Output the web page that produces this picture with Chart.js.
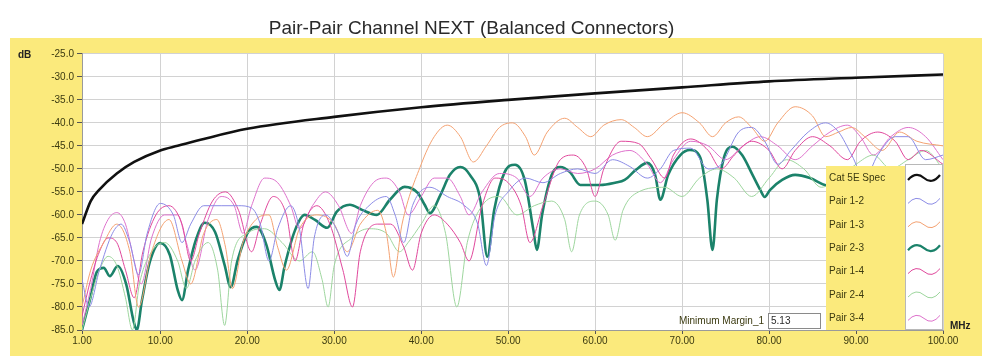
<!DOCTYPE html>
<html>
<head>
<meta charset="utf-8">
<script src="https://cdn.jsdelivr.net/npm/chart.js@4.4.1/dist/chart.umd.min.js"></script>
<style>
  html, body { margin: 0; padding: 0; background: #fff; }
  #wrap { width: 982px; height: 356px; }
</style>
</head>
<body>
<div id="wrap"><canvas id="next-chart"></canvas></div>
<script>
// frequency ticks (MHz) and dB ticks
var xTicks = [1, 10, 20, 30, 40, 50, 60, 70, 80, 90, 100];
var yMin = -85, yMax = -25, yStep = 5;

var seriesNames = ['Cat 5E Spec', 'Pair 1-2', 'Pair 1-3', 'Pair 2-3', 'Pair 1-4', 'Pair 2-4', 'Pair 3-4'];
var seriesColors = ['#111111', '#8c8ce6', '#f4a272', '#1b826a', '#e0489c', '#9ed69e', '#de72cc'];

// [MHz, dB]
var cat5eSpec = [[1,-62],[2,-57],[3,-54.5],[5,-51],[7,-48.5],[10,-46],[12,-45],[15,-43.5],[20,-41.3],[30,-38.7],[40,-36.6],[50,-35],[60,-33.6],[70,-32.3],[80,-31],[90,-30.2],[100,-29.5]];

var pair12 = [[1,-74],[1.8,-80],[3,-72],[4.5,-64],[5.5,-62],[6.5,-66],[7.5,-73],[8.5,-64],[10,-57.5],[11.5,-60],[12.5,-66],[13.5,-62],[15,-58],[17,-58],[19,-58],[20.5,-58.5],[21.5,-62],[22.5,-70],[23.5,-63],[25,-58],[26,-63],[27,-76],[27.7,-65],[29,-60],[30.5,-64],[31.5,-69],[32.5,-62],[34,-58],[36,-56],[37,-60],[38,-66],[39,-58],[41,-54],[43,-56],[45,-58],[46.5,-62],[47.5,-71],[48.5,-60],[50,-55],[52,-52],[54,-53],[56,-51],[58,-50],[60,-51],[62,-48],[64,-49.5],[66,-52],[67.5,-50],[69,-46],[71,-45.5],[73,-50],[74.5,-49],[76.5,-42],[78,-41],[79.5,-44],[81,-49],[82.5,-46],[84.5,-42],[86.5,-40],[88,-42],[89.5,-47],[91,-52],[92.5,-47],[94.5,-43],[96,-43],[98,-48],[100,-47]];

var pair13 = [[1,-80],[2,-72],[3.5,-66],[5,-62],[6.5,-68],[7.5,-80],[9,-68],[11,-61],[12.5,-70],[13.5,-75],[15,-64],[16.5,-61],[17.5,-67],[18.3,-76],[19.5,-66],[21,-61],[22.5,-60],[23.5,-67],[24.5,-72],[26,-63],[28,-60],[30,-62],[31.5,-68],[33,-62],[35,-59],[36,-64],[36.8,-73.5],[37.8,-62],[40,-49],[41.5,-43],[43,-40.5],[44.5,-43],[46,-48.5],[47.5,-45],[49,-41],[50.5,-40],[52,-43],[53,-47],[54.5,-42],[56.5,-39],[58,-41],[59.5,-43],[61,-40.5],[63,-39.3],[64.5,-41],[66,-43],[68,-40],[70,-37.8],[72,-40],[73.5,-43],[75,-40],[76.5,-38.7],[78,-41],[79.5,-44],[81,-40],[83,-36.5],[85,-38.5],[86.5,-43],[88,-42],[89.5,-41],[91,-43],[93,-46],[95,-42],[97,-44],[100,-45]];

var pair23 = [[1,-85],[1.9,-78.5],[2.7,-72.4],[3.5,-71.5],[4.2,-73.3],[5.1,-71.1],[6.1,-75.2],[6.9,-82.8],[7.3,-85],[7.9,-78.5],[8.8,-70.2],[10,-66.1],[11.1,-68.7],[12,-76.3],[12.5,-78.5],[13.2,-72],[14.1,-65.4],[15.1,-61.7],[16.3,-63.7],[17.4,-70.9],[18.1,-75.7],[18.9,-69.8],[20.1,-63.7],[21.1,-62.6],[22.2,-66.5],[23.2,-74.1],[23.7,-76.3],[24.3,-71.1],[25.5,-63.3],[26.6,-60],[27.8,-61.1],[29.2,-62.8],[30.3,-59.3],[31.8,-57.8],[33.2,-58.9],[34.9,-60],[36.4,-56.7],[38.1,-53.9],[39.6,-55.2],[40.4,-57.8],[41,-59.6],[42.2,-55.7],[43.3,-51.3],[44.5,-49.6],[45.6,-51.3],[46.8,-56.7],[47.6,-69.1],[48.4,-58.9],[49.6,-50.7],[50.8,-49.1],[51.9,-52.4],[52.9,-63.3],[53.3,-67.6],[53.9,-60],[55,-51.3],[56,-49.6],[57.1,-50.7],[58.3,-53.5],[60.6,-53.5],[62.3,-53],[63.4,-52.4],[64.7,-50.2],[66,-48.7],[66.9,-51.3],[67.5,-56.7],[68.4,-51.3],[69.8,-47],[70.9,-45.9],[72.1,-47.6],[72.9,-56.7],[73.5,-67.6],[74,-56.7],[74.8,-47.6],[75.8,-45.2],[76.9,-47],[78.1,-51.3],[79,-54.6],[79.5,-56.1],[80.1,-54.6],[81.5,-52.4],[83,-51.3],[84.7,-52],[86.4,-53.5],[90,-55],[95,-52],[100,-54]];

var pair14 = [[1,-82],[2,-74],[3,-68],[4,-65],[5,-66],[6,-72],[7,-78],[8,-68],[9.5,-60],[11,-58],[12.5,-62],[13.5,-70],[14.5,-64],[16,-57],[17.5,-55],[19,-59],[20.5,-68],[21.5,-62],[23,-56],[24.5,-60],[25.5,-70],[26.5,-62],[28,-58],[29.5,-62],[31,-72],[32.1,-80],[33,-68],[35,-62],[36.5,-62],[38,-67],[39,-72],[40,-64],[41.5,-60],[43,-62],[44.5,-66],[45.5,-70],[47,-58],[48.5,-52],[50,-53],[51.5,-58],[52.5,-66],[54,-58],[56,-48],[57.5,-47],[59,-50],[60,-56],[61,-50],[63,-44],[65,-44.5],[66.5,-48],[68,-52],[69,-47],[71,-43.5],[73,-46],[74.5,-50],[76,-47],[78,-44],[80,-46],[81.5,-50],[83,-46],[85,-43],[87,-45],[89,-48],[90.5,-44],[92.5,-42],[94.5,-44],[96,-48],[97.5,-46],[100,-49]];

var pair24 = [[1,-85],[2,-78],[3,-72],[4,-69],[5,-71],[6,-78],[6.8,-85],[7.6,-75],[9,-68],[10.5,-66],[12,-70],[13,-76],[14,-70],[15.5,-66],[16.6,-72],[17.4,-84],[18.2,-70],[20,-64],[22,-63],[24,-66],[26,-70],[27.5,-68],[28.6,-74],[29.3,-80],[30,-71],[32,-65],[34,-63],[36,-64],[37.5,-68],[38.5,-66],[40,-62],[41.5,-58],[42.8,-64],[44.1,-80],[45.3,-66],[47,-58],[49,-56],[51,-60],[53,-58],[55,-57],[56.5,-61],[57.3,-68],[58.2,-60],[60,-57],[61.5,-60],[62.3,-65.5],[63.2,-59],[65,-55],[68,-54],[70,-56],[72,-52],[74,-50],[76,-52],[78,-56],[80,-52],[82,-48],[84,-50],[86,-54],[88,-52],[90,-49],[92,-47],[94,-50],[96,-48],[98,-46],[100,-50]];

var pair34 = [[1,-84],[2,-76],[3,-66],[4,-61],[5,-59.5],[6,-62],[7,-70],[7.8,-75],[9,-65],[10.5,-60],[12,-60],[13,-66],[14,-72],[15.5,-61],[17,-56],[18.5,-58],[19.5,-64],[20.5,-58],[22,-52],[23.5,-53],[25,-58],[26,-63],[27.5,-58],[29,-55],[30.5,-58],[32,-64],[33,-58],[34.5,-53],[36,-52],[37.5,-55],[38.5,-60],[40,-56],[41.5,-52],[43,-52],[44.5,-56],[45.5,-60],[47,-55],[49,-51],[51,-52],[52.5,-56],[54,-52],[56,-50],[58,-51],[60,-50],[62,-47],[64,-46],[66,-49],[67.5,-53],[69,-48],[71,-44],[73,-45],[75,-48],[77,-45],[79,-43],[81,-45],[83,-48],[85,-45],[87,-42],[89,-40.5],[90.5,-43],[92,-47],[94,-43],[96,-41],[98,-43],[100,-48]];

var minimumMargin = 5.13;

var allSeries = [cat5eSpec, pair12, pair13, pair23, pair14, pair24, pair34];
var thick = [true, false, false, true, false, false, false];

function toPoints(arr) {
    return arr.map(function(p) { return {x: p[0], y: p[1]}; });
}

var datasets = [];
// draw order: pairs first, spec and pair 2-3 on top
var order = [1, 2, 4, 5, 6, 3, 0];
for (var k = 0; k < order.length; k++) {
    var i = order[k];
    datasets.push({
        label: seriesNames[i],
        data: toPoints(allSeries[i]),
        borderColor: seriesColors[i],
        borderWidth: thick[i] ? 2.6 : 1,
        pointRadius: 0,
        cubicInterpolationMode: 'monotone',
        fill: false
    });
}

var yellow = '#fbea7c';
var fontFam = '"Liberation Sans", Arial, sans-serif';

// yellow panel behind everything, white plot area
var panelPlugin = {
    id: 'panel',
    beforeDraw: function(chart) {
        var ctx = chart.ctx, a = chart.chartArea;
        ctx.save();
        ctx.fillStyle = '#ffffff';
        ctx.fillRect(0, 0, chart.width, chart.height);
        ctx.fillStyle = yellow;
        ctx.fillRect(10, 38, chart.width - 10, chart.height - 38);
        ctx.fillStyle = '#ffffff';
        ctx.fillRect(a.left, a.top, a.right - a.left, a.bottom - a.top);
        ctx.restore();
    }
};

// legend box, margin box and axis units drawn over the traces
var overlayPlugin = {
    id: 'overlay',
    afterDatasetsDraw: function(chart) {
        var ctx = chart.ctx, a = chart.chartArea;
        ctx.save();
        var lx = 826, ly = 166, sx = 905, rowH = 23.4;
        var lb = a.bottom;
        ctx.fillStyle = yellow;
        ctx.fillRect(lx, ly, sx - lx, lb - ly);
        ctx.fillStyle = '#ffffff';
        ctx.fillRect(sx, ly - 2, a.right - sx, lb - ly + 2);
        ctx.strokeStyle = '#b8b8b8';
        ctx.lineWidth = 1;
        ctx.strokeRect(sx + 0.5, ly - 1.5, a.right - sx - 1, lb - ly + 1);

        ctx.font = '10px ' + fontFam;
        ctx.textBaseline = 'middle';
        ctx.textAlign = 'left';
        for (var i = 0; i < seriesNames.length; i++) {
            var cy = 178 + i * rowH;
            ctx.fillStyle = '#3b3a10';
            ctx.fillText(seriesNames[i], lx + 3, cy);
            // wavy sample
            ctx.beginPath();
            ctx.strokeStyle = seriesColors[i];
            ctx.lineWidth = thick[i] ? 2.2 : 1;
            var x0 = sx + 3, w = a.right - sx - 6;
            ctx.moveTo(x0, cy + 2);
            ctx.quadraticCurveTo(x0 + w * 0.25, cy - 7, x0 + w * 0.5, cy);
            ctx.quadraticCurveTo(x0 + w * 0.75, cy + 7, x0 + w, cy - 3);
            ctx.stroke();
        }

        // minimum margin read-out
        ctx.fillStyle = '#3b3a10';
        ctx.textAlign = 'right';
        ctx.fillText('Minimum Margin_1', 764, 321);
        ctx.fillStyle = '#ffffff';
        ctx.fillRect(768, 313, 52, 15);
        ctx.strokeStyle = '#8a8a8a';
        ctx.strokeRect(768.5, 313.5, 52, 15);
        ctx.fillStyle = '#2a2a2a';
        ctx.textAlign = 'left';
        ctx.fillText(minimumMargin.toFixed(2), 771, 321);

        // units
        ctx.font = 'bold 10px ' + fontFam;
        ctx.fillStyle = '#222222';
        ctx.fillText('MHz', 950, 326);
        ctx.fillText('dB', 18, 55);
        ctx.restore();
    }
};

new Chart(document.getElementById('next-chart'), {
    type: 'line',
    data: {datasets: datasets},
    options: {
        responsive: true,
        maintainAspectRatio: false,
        animation: false,
        layout: {padding: {left: 0, right: 39, top: 0, bottom: 0}},
        plugins: {
            legend: {display: false},
            tooltip: {enabled: false},
            title: {
                display: true,
                text: 'Pair-Pair Channel NEXT (Balanced Connectors)',
                color: '#2a2a2a',
                font: {family: fontFam, size: 19, weight: 'normal'},
                padding: {top: 17, bottom: 14}
            }
        },
        scales: {
            x: {
                type: 'linear',
                min: 1,
                max: 100,
                afterBuildTicks: function(axis) {
                    axis.ticks = xTicks.map(function(v) { return {value: v}; });
                },
                afterFit: function(scale) { scale.height = 26; },
                grid: {color: '#d2d2d2', tickColor: '#555', tickLength: 4},
                border: {color: '#9a9a9a'},
                ticks: {
                    autoSkip: false,
                    maxRotation: 0,
                    padding: 1,
                    color: '#3b3a10',
                    font: {family: fontFam, size: 10},
                    callback: function(v) { return Number(v).toFixed(2); }
                }
            },
            y: {
                type: 'linear',
                min: yMin,
                max: yMax,
                afterFit: function(scale) { scale.width = 82; },
                grid: {color: '#d2d2d2', tickColor: '#555', tickLength: 5},
                border: {color: '#9a9a9a'},
                ticks: {
                    stepSize: yStep,
                    padding: 3,
                    color: '#3b3a10',
                    font: {family: fontFam, size: 10},
                    callback: function(v) { return Number(v).toFixed(1); }
                }
            }
        }
    },
    plugins: [panelPlugin, overlayPlugin]
});
</script>
</body>
</html>
